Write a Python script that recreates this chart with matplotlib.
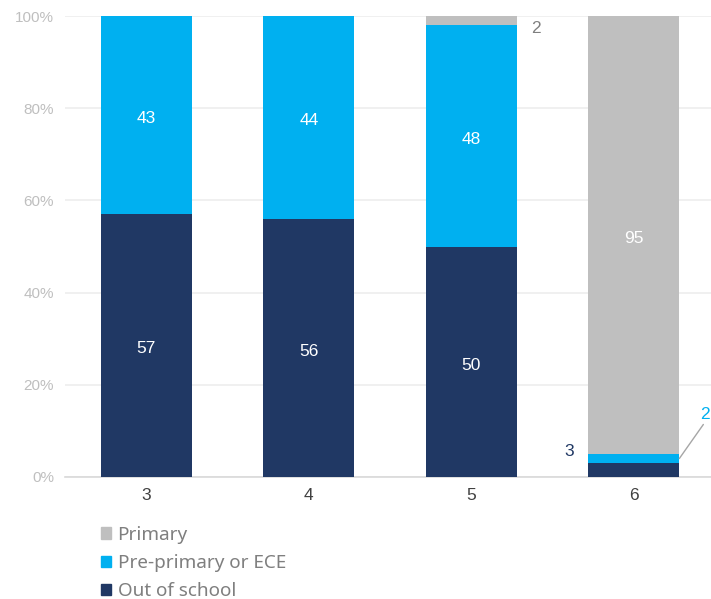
import numpy as np
import matplotlib.pyplot as plt
from matplotlib.patches import Patch

ages = ["3", "4", "5", "6"]
out_of_school = [57, 56, 50, 3]
pre_primary = [43, 44, 48, 2]
primary = [0, 0.4, 2, 95]

navy = "#203864"
cyan = "#00B0F0"
grey = "#BFBFBF"

fig = plt.figure(figsize=(7.11, 5.99), dpi=100)
ax = fig.add_axes([65 / 711, 1 - 477 / 599, 646 / 711, 461 / 599])

x = np.arange(len(ages))
w = 0.56
oos = np.array(out_of_school)
pre = np.array(pre_primary)
pri = np.array(primary)

ax.bar(x, oos, w, color=navy, zorder=3)
ax.bar(x, pre, w, bottom=oos, color=cyan, zorder=3)
ax.bar(x, pri, w, bottom=oos + pre, color=grey, zorder=3)

lab_font = dict(fontsize=12.5, family="Liberation Sans", ha="center", va="center_baseline")
for i in range(len(ages)):
    if oos[i] >= 10:
        ax.text(x[i], oos[i] / 2 - 0.4, f"{oos[i]:g}", color="white", **lab_font)
    if pre[i] >= 10:
        ax.text(x[i], oos[i] + pre[i] / 2 - 0.4, f"{pre[i]:g}", color="white", **lab_font)
    if pri[i] >= 10:
        ax.text(x[i], oos[i] + pre[i] + pri[i] / 2 - 0.4, f"{pri[i]:g}", color="white", **lab_font)

# small segments labelled outside the bars
ax.text(x[2] + w / 2 + 0.12, oos[2] + pre[2] + pri[2] / 2 - 1.8, f"{pri[2]:g}",
        color="#7F7F7F", fontsize=12.5, family="Liberation Sans", ha="center", va="center")
ax.text(x[3] - w / 2 - 0.12, oos[3] + 2.5, f"{oos[3]:g}",
        color=navy, fontsize=12.5, family="Liberation Sans", ha="center", va="center")
ax.annotate(f"{pre[3]:g}", xy=(x[3] + w / 2, oos[3] + pre[3] / 2),
            xytext=(x[3] + w / 2 + 0.16, oos[3] + pre[3] + 7),
            color=cyan, fontsize=12.5, family="Liberation Sans", ha="center", va="bottom",
            arrowprops=dict(arrowstyle="-", color="#A6A6A6", lw=1, shrinkA=0, shrinkB=0,
                            relpos=(0.5, 0)))

ax.set_xlim(-0.5, 3.475)
ax.set_ylim(0, 100)
ax.set_xticks(x)
ax.set_xticklabels(ages, fontsize=12.5, family="Liberation Sans", color="#404040")
ax.set_yticks(np.arange(0, 101, 20))
ax.set_yticklabels([f"{v}%" for v in range(0, 101, 20)], fontsize=11,
                   family="Liberation Sans", color="#BFBFBF")
ax.tick_params(length=0, pad=8)
ax.grid(axis="y", color="#EDEDED", lw=1.2, zorder=0)
for s in ["top", "right", "left"]:
    ax.spines[s].set_visible(False)
ax.spines["bottom"].set_color("#D9D9D9")
ax.spines["bottom"].set_linewidth(1.2)

handles = [Patch(color=grey, label="Primary"),
           Patch(color=cyan, label="Pre-primary or ECE"),
           Patch(color=navy, label="Out of school")]
fig.legend(handles=handles, loc="upper left", bbox_to_anchor=(93 / 711, 1 - 518 / 599),
           frameon=False, prop=dict(family="Noto Sans", size=13.6), labelcolor="#7F7F7F",
           handlelength=0.55, handleheight=0.55, handletextpad=0.35, labelspacing=0.55,
           borderaxespad=0)

fig.savefig("out.png", dpi=100)
